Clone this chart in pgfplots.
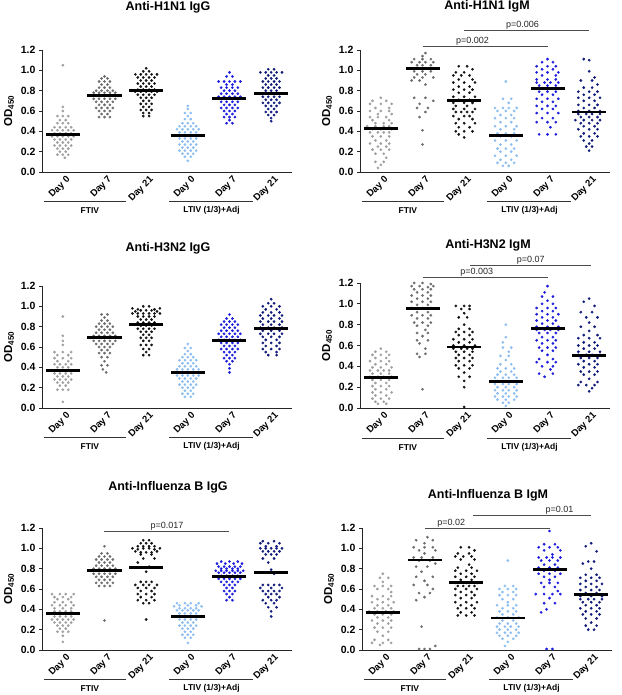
\documentclass[border=0pt]{standalone}
\usepackage{fontspec}
\setmainfont{Liberation Sans}
\usepackage{pgfplots}
\pgfplotsset{compat=1.18}

\definecolor{cA}{HTML}{A0A0A0}
\definecolor{cB}{HTML}{6E6E6E}
\definecolor{cC}{HTML}{141414}
\definecolor{cD}{HTML}{8DBEF0}
\definecolor{cE}{HTML}{1E1EDC}
\definecolor{cF}{HTML}{101C7A}

\pgfplotsset{
  panel/.style={
    scale only axis, width=250pt, height=122pt,
    xmin=0.5, xmax=6.5, ymin=0, ymax=1.2,
    axis x line*=bottom, axis y line*=left,
    axis line style={-, line width=0.8pt, black!85},
    xtick={1,2,3,4,5,6},
    xticklabels={Day 0,Day 7,Day 21,Day 0,Day 7,Day 21},
    x tick label style={rotate=45, anchor=north east, inner sep=0pt, xshift=2pt, yshift=-2pt,
      font=\bfseries\fontsize{9.5}{10}\selectfont},
    major x tick style={draw=none},
    ytick={0,0.2,0.4,0.6,0.8,1.0,1.2},
    y tick label style={font=\bfseries\fontsize{10.5}{11}\selectfont,
      /pgf/number format/.cd, fixed, fixed zerofill, precision=1, assume math mode=true},
    tick align=outside, major tick length=3pt,
    y tick style={black!85, line width=0.8pt},
    ylabel={OD\textsubscript{450}},
    ylabel style={font=\bfseries\fontsize{11.5}{12}\selectfont},
    clip=false,
  },
  g/.style 2 args={only marks, mark=*, mark size=1.15pt, color=#1, x filter/.expression={x+#2}},
  med/.style={only marks, mark=-, mark size=17pt, mark options={line width=2.8pt, black}},
}

% group lines under the tick labels
\newcommand{\groups}{%
  \draw[black!80, line width=0.7pt] (axis cs:0.55,-0.29) -- (axis cs:2.52,-0.29);
  \draw[black!80, line width=0.7pt] (axis cs:3.55,-0.29) -- (axis cs:5.57,-0.29);
  \node[font=\bfseries\fontsize{8.5}{9}\selectfont] at (axis cs:1.65,-0.38) {FTIV};
  \node[font=\bfseries\fontsize{8.5}{9}\selectfont] at (axis cs:4.57,-0.38) {LTIV (1/3)+Adj};
}
% p-value bracket: x1, x2, y, label x, text
\newcommand{\pbar}[5]{%
  \draw[black!70, line width=0.7pt] (axis cs:#1,#3) -- (axis cs:#2,#3);
  \node[font=\fontsize{9}{10}\selectfont, black!85, anchor=south, inner sep=0.8pt] at (axis cs:#4,#3) {#5};
}
\tikzset{ttl/.style={font=\bfseries\fontsize{12.5}{14}\selectfont}}

\begin{document}
\begin{tikzpicture}
\useasboundingbox (0,0) rectangle (621pt,695pt);

% ---------- Anti-H1N1 IgG ----------
\begin{axis}[panel, at={(42pt,523pt)}, anchor=south west]
\addplot[g={cA}{1}] coordinates {(0,1.05)(0,.64)(0,.6)(-.13,.55)(0,.55)(.13,.55)(-.07,.51)(.07,.51)(-.13,.48)(0,.48)(.13,.48)(-.2,.44)(-.07,.44)(.07,.44)(.2,.44)(-.26,.41)(-.13,.41)(0,.41)(.13,.41)(.26,.41)(-.2,.38)(-.07,.38)(.07,.38)(.2,.38)(-.26,.35)(-.13,.35)(0,.35)(.13,.35)(.26,.35)(-.2,.32)(-.07,.32)(.07,.32)(.2,.32)(-.13,.29)(0,.29)(.13,.29)(-.2,.26)(-.07,.26)(.07,.26)(.2,.26)(-.13,.23)(0,.23)(.13,.23)(-.07,.2)(.07,.2)(-.13,.17)(0,.17)(.13,.17)(.05,.14)};
\addplot[g={cB}{2}] coordinates {(0,.94)(-.07,.92)(.07,.92)(-.13,.89)(0,.89)(.13,.89)(-.07,.86)(.07,.86)(-.13,.83)(0,.83)(.13,.83)(-.2,.8)(-.07,.8)(.07,.8)(.2,.8)(-.26,.78)(-.13,.78)(0,.78)(.13,.78)(.26,.78)(-.33,.75)(-.2,.75)(-.07,.75)(.07,.75)(.2,.75)(.33,.75)(-.26,.72)(-.13,.72)(0,.72)(.13,.72)(.26,.72)(-.2,.69)(-.07,.69)(.07,.69)(.2,.69)(-.13,.66)(0,.66)(.13,.66)(-.2,.63)(-.07,.63)(.07,.63)(.2,.63)(-.13,.6)(0,.6)(.13,.6)(-.07,.57)(.07,.57)(-.13,.54)(0,.54)(.13,.54)};
\addplot[g={cC}{3}] coordinates {(0,1.02)(-.07,.99)(.07,.99)(-.26,.96)(-.13,.96)(0,.96)(.13,.96)(.26,.96)(-.2,.93)(-.07,.93)(.07,.93)(.2,.93)(-.13,.9)(0,.9)(.13,.9)(-.2,.87)(-.07,.87)(.07,.87)(.2,.87)(-.13,.84)(0,.84)(.13,.84)(-.2,.81)(-.07,.81)(.07,.81)(.2,.81)(-.26,.79)(-.13,.79)(0,.79)(.13,.79)(.26,.79)(-.2,.76)(-.07,.76)(.07,.76)(.2,.76)(-.13,.73)(0,.73)(.13,.73)(-.07,.7)(.07,.7)(-.13,.67)(0,.67)(.13,.67)(-.07,.64)(.07,.64)(-.13,.61)(0,.61)(.13,.61)(-.07,.58)(.07,.58)(-.07,.55)(.07,.55)};
\addplot[g={cD}{4}] coordinates {(0,.65)(0,.62)(-.07,.58)(.07,.58)(0,.55)(-.07,.52)(.07,.52)(-.13,.48)(0,.48)(.13,.48)(-.2,.45)(-.07,.45)(.07,.45)(.2,.45)(-.26,.42)(-.13,.42)(0,.42)(.13,.42)(.26,.42)(-.2,.39)(-.07,.39)(.07,.39)(.2,.39)(-.26,.36)(-.13,.36)(0,.36)(.13,.36)(.26,.36)(-.2,.33)(-.07,.33)(.07,.33)(.2,.33)(-.13,.3)(0,.3)(.13,.3)(-.2,.27)(-.07,.27)(.07,.27)(.2,.27)(-.13,.24)(0,.24)(.13,.24)(-.2,.21)(-.07,.21)(.07,.21)(.2,.21)(-.13,.18)(0,.18)(.13,.18)(-.07,.15)(.07,.15)(0,.11)};
\addplot[g={cE}{5}] coordinates {(0,.98)(-.07,.94)(.07,.94)(-.26,.89)(-.13,.89)(0,.89)(.13,.89)(.26,.89)(-.07,.86)(.07,.86)(-.2,.83)(-.07,.83)(.07,.83)(.2,.83)(-.13,.8)(0,.8)(.13,.8)(-.2,.77)(-.07,.77)(.07,.77)(.2,.77)(-.26,.74)(-.13,.74)(0,.74)(.13,.74)(.26,.74)(-.33,.72)(-.2,.72)(-.07,.72)(.07,.72)(.2,.72)(.33,.72)(-.2,.69)(-.07,.69)(.07,.69)(.2,.69)(-.13,.66)(0,.66)(.13,.66)(-.2,.63)(-.07,.63)(.07,.63)(.2,.63)(-.13,.6)(0,.6)(.13,.6)(-.07,.57)(.07,.57)(-.13,.54)(0,.54)(.13,.54)(0,.51)(-.07,.48)(.07,.48)};
\addplot[g={cF}{6}] coordinates {(-.07,1.01)(.07,1.01)(-.26,.98)(-.13,.98)(0,.98)(.13,.98)(.26,.98)(-.07,.95)(.07,.95)(-.13,.92)(0,.92)(.13,.92)(-.2,.89)(-.07,.89)(.07,.89)(.2,.89)(-.13,.86)(0,.86)(.13,.86)(-.2,.83)(-.07,.83)(.07,.83)(.2,.83)(-.13,.8)(0,.8)(.13,.8)(-.26,.77)(-.13,.77)(0,.77)(.13,.77)(.26,.77)(-.2,.74)(-.07,.74)(.07,.74)(.2,.74)(-.13,.71)(0,.71)(.13,.71)(-.2,.68)(-.07,.68)(.07,.68)(.2,.68)(-.13,.65)(0,.65)(.13,.65)(-.07,.62)(.07,.62)(-.13,.59)(0,.59)(.13,.59)(-.07,.56)(.07,.56)(0,.53)(0,.5)};
\addplot[med] coordinates {(1,.365)(2,.755)(3,.80)(4,.355)(5,.725)(6,.775)};
\groups
\end{axis}

% ---------- Anti-H1N1 IgM ----------
\begin{axis}[panel, at={(360pt,523pt)}, anchor=south west]
\addplot[g={cA}{1}] coordinates {(0,.73)(-.2,.7)(.13,.7)(-.26,.67)(0,.67)(.26,.67)(-.13,.63)(.2,.63)(-.26,.6)(0,.6)(.2,.6)(-.07,.57)(.26,.57)(-.26,.54)(-.07,.54)(.13,.54)(-.2,.51)(.2,.51)(-.13,.48)(.07,.48)(.26,.48)(-.33,.45)(-.13,.45)(.07,.45)(.2,.45)(-.2,.42)(0,.42)(.26,.42)(-.26,.39)(-.07,.39)(.07,.39)(.2,.39)(-.2,.35)(0,.35)(.2,.35)(-.13,.31)(.13,.31)(-.26,.28)(0,.28)(.2,.28)(-.07,.25)(.13,.25)(-.2,.22)(0,.22)(.2,.22)(-.13,.18)(.07,.18)(.13,.14)(-.13,.1)(.07,.1)(0,.07)(-.07,.04)};
\addplot[g={cB}{2}] coordinates {(.07,1.17)(0,1.14)(-.2,1.11)(0,1.11)(.2,1.11)(-.26,1.08)(-.07,1.08)(.07,1.08)(.26,1.08)(-.13,1.05)(0,1.05)(.2,1.05)(-.26,1.02)(-.13,1.02)(.13,1.02)(.26,1.02)(-.2,.99)(0,.99)(.2,.99)(-.13,.96)(.07,.96)(-.2,.93)(0,.93)(.26,.93)(-.26,.9)(-.07,.9)(.07,.86)(-.2,.73)(.07,.73)(.26,.7)(-.07,.67)(-.13,.63)(.13,.63)(.07,.59)(-.07,.54)(0,.41)(0,.27)};
\addplot[g={cC}{3}] coordinates {(-.13,1.04)(.07,1.04)(.2,1.01)(-.2,.98)(0,.98)(-.26,.95)(-.07,.95)(.13,.95)(-.13,.91)(.2,.91)(-.26,.88)(0,.88)(.26,.88)(-.13,.84)(.13,.84)(-.26,.81)(0,.81)(.2,.81)(-.13,.78)(.13,.78)(-.26,.74)(0,.74)(.26,.74)(-.13,.71)(.13,.71)(-.26,.68)(0,.68)(.2,.68)(-.2,.65)(.07,.65)(-.26,.62)(0,.62)(.26,.62)(-.2,.59)(-.07,.59)(.07,.59)(.2,.59)(-.26,.55)(0,.55)(.13,.55)(-.13,.52)(.2,.52)(-.2,.48)(0,.48)(.26,.48)(-.13,.44)(.13,.44)(-.2,.4)(0,.4)(.2,.4)(-.13,.37)(0,.34)};
\addplot[g={cD}{4}] coordinates {(0,.89)(-.07,.72)(.13,.72)(.07,.68)(-.26,.63)(-.07,.63)(.07,.63)(.26,.63)(-.2,.6)(0,.6)(.2,.6)(-.13,.56)(.13,.56)(-.26,.53)(0,.53)(.2,.53)(-.13,.49)(.13,.49)(-.26,.45)(0,.45)(.26,.45)(-.13,.42)(.2,.42)(-.2,.38)(0,.38)(.2,.38)(-.13,.35)(.13,.35)(-.26,.31)(0,.31)(.26,.31)(-.13,.27)(.13,.27)(-.2,.23)(0,.23)(.2,.23)(-.13,.2)(.13,.2)(-.26,.16)(0,.16)(.26,.16)(-.13,.12)(.13,.12)(-.2,.09)(0,.09)(.2,.09)(-.07,.06)(.07,.06)};
\addplot[g={cE}{5}] coordinates {(0,1.11)(-.13,1.08)(.13,1.08)(-.26,1.04)(0,1.04)(.2,1.04)(-.13,1.01)(.13,1.01)(-.26,.98)(0,.98)(.26,.98)(-.13,.95)(.2,.95)(-.26,.91)(0,.91)(.2,.91)(-.26,.88)(-.07,.88)(.07,.88)(.26,.88)(-.2,.85)(0,.85)(.2,.85)(-.26,.82)(-.07,.82)(.07,.82)(.26,.82)(-.2,.79)(0,.79)(.2,.79)(-.13,.76)(.13,.76)(-.26,.72)(0,.72)(.26,.72)(-.13,.69)(.13,.69)(-.26,.65)(0,.65)(.2,.65)(-.13,.62)(.13,.62)(-.26,.58)(0,.58)(.26,.58)(-.13,.53)(.13,.53)(-.26,.49)(0,.49)(.2,.49)(.07,.44)(-.2,.37)(0,.37)(.2,.37)};
\addplot[g={cF}{6}] coordinates {(-.13,1.11)(0,1.1)(0,.99)(.13,.93)(-.2,.9)(.07,.9)(.2,.86)(-.13,.83)(.07,.83)(-.26,.79)(0,.79)(.2,.79)(-.13,.76)(.13,.76)(-.26,.73)(0,.73)(.26,.73)(-.13,.7)(.13,.7)(-.26,.66)(0,.66)(.2,.66)(-.13,.63)(.13,.63)(-.26,.6)(0,.6)(.26,.6)(-.26,.57)(-.07,.57)(.07,.57)(.26,.57)(-.2,.54)(0,.54)(.2,.54)(-.33,.51)(-.13,.51)(.07,.51)(.26,.51)(-.2,.48)(0,.48)(.2,.48)(-.13,.45)(.13,.45)(-.26,.42)(0,.42)(.2,.42)(-.13,.38)(.13,.38)(-.2,.35)(0,.35)(.2,.35)(-.13,.31)(.07,.31)(0,.28)(-.07,.25)(.07,.25)(0,.21)};
\addplot[med] coordinates {(1,.425)(2,1.015)(3,.705)(4,.36)(5,.825)(6,.59)};
\groups
\pbar{2}{5}{1.24}{3.2}{p=0.002}
\pbar{3}{6}{1.39}{4.4}{p=0.006}
\end{axis}

% ---------- Anti-H3N2 IgG ----------
\begin{axis}[panel, at={(42pt,287pt)}, anchor=south west]
\addplot[g={cA}{1}] coordinates {(0,.9)(0,.71)(0,.66)(0,.62)(-.2,.55)(0,.55)(.2,.55)(-.13,.52)(.13,.52)(-.2,.49)(0,.49)(.2,.49)(-.13,.46)(.13,.46)(-.2,.43)(-.07,.43)(.07,.43)(.2,.43)(-.13,.4)(0,.4)(.13,.4)(-.26,.37)(-.13,.37)(0,.37)(.13,.37)(.26,.37)(-.2,.34)(-.07,.34)(.07,.34)(.2,.34)(-.13,.31)(0,.31)(.13,.31)(-.2,.28)(-.07,.28)(.07,.28)(.2,.28)(-.13,.25)(0,.25)(.13,.25)(-.07,.22)(.07,.22)(-.13,.18)(0,.18)(.13,.18)(0,.06)};
\addplot[g={cB}{2}] coordinates {(-.07,.92)(.07,.92)(0,.89)(-.07,.86)(.07,.86)(-.13,.83)(0,.83)(.13,.83)(-.2,.8)(-.07,.8)(.07,.8)(.2,.8)(-.13,.77)(0,.77)(.13,.77)(-.2,.74)(-.07,.74)(.07,.74)(.2,.74)(-.26,.71)(-.13,.71)(0,.71)(.13,.71)(.26,.71)(-.33,.69)(-.2,.69)(-.07,.69)(.07,.69)(.2,.69)(.33,.69)(-.26,.66)(-.13,.66)(0,.66)(.13,.66)(.26,.66)(-.2,.63)(-.07,.63)(.07,.63)(.2,.63)(-.13,.6)(0,.6)(.13,.6)(-.07,.57)(.07,.57)(-.13,.54)(0,.54)(.13,.54)(-.07,.5)(.07,.5)(0,.46)(-.07,.42)(.07,.42)(-.04,.38)(.04,.35)};
\addplot[g={cC}{3}] coordinates {(-.07,1)(.07,1)(-.33,.98)(-.2,.97)(.2,.97)(.33,.98)(-.26,.95)(-.13,.96)(0,.96)(.13,.96)(.26,.95)(-.33,.93)(-.2,.93)(-.07,.93)(.07,.93)(.2,.93)(.33,.93)(-.2,.9)(-.07,.9)(.07,.9)(.2,.9)(-.13,.87)(0,.87)(.13,.87)(-.2,.84)(-.07,.84)(.07,.84)(.2,.84)(-.13,.81)(0,.81)(.13,.81)(-.2,.78)(-.07,.78)(.07,.78)(.2,.78)(-.13,.75)(0,.75)(.13,.75)(-.07,.72)(.07,.72)(-.13,.69)(0,.69)(.13,.69)(-.07,.66)(.07,.66)(-.13,.62)(0,.62)(.13,.62)(-.07,.58)(.07,.58)(0,.55)(-.07,.52)(.07,.52)};
\addplot[g={cD}{4}] coordinates {(0,.63)(-.07,.59)(.07,.59)(0,.56)(-.07,.53)(.07,.53)(-.13,.5)(0,.5)(.13,.5)(-.2,.47)(-.07,.47)(.07,.47)(.2,.47)(-.13,.44)(0,.44)(.13,.44)(-.2,.41)(-.07,.41)(.07,.41)(.2,.41)(-.26,.38)(-.13,.38)(0,.38)(.13,.38)(.26,.38)(-.2,.35)(-.07,.35)(.07,.35)(.2,.35)(-.26,.32)(-.13,.32)(0,.32)(.13,.32)(.26,.32)(-.2,.29)(-.07,.29)(.07,.29)(.2,.29)(-.13,.26)(0,.26)(.13,.26)(-.2,.23)(-.07,.23)(.07,.23)(.2,.23)(-.13,.2)(0,.2)(.13,.2)(-.07,.17)(.07,.17)(-.13,.14)(0,.14)(.13,.14)(-.07,.11)(.07,.11)};
\addplot[g={cE}{5}] coordinates {(0,.92)(-.07,.88)(.07,.88)(-.13,.85)(0,.85)(.13,.85)(-.2,.82)(-.07,.82)(.07,.82)(.2,.82)(-.13,.79)(0,.79)(.13,.79)(-.2,.76)(-.07,.76)(.07,.76)(.2,.76)(-.26,.73)(-.13,.73)(0,.73)(.13,.73)(.26,.73)(-.2,.7)(-.07,.7)(.07,.7)(.2,.7)(-.26,.67)(-.13,.67)(0,.67)(.13,.67)(.26,.67)(-.2,.64)(-.07,.64)(.07,.64)(.2,.64)(-.13,.61)(0,.61)(.13,.61)(-.2,.58)(-.07,.58)(.07,.58)(.2,.58)(-.13,.55)(0,.55)(.13,.55)(-.07,.52)(.07,.52)(-.13,.49)(0,.49)(.13,.49)(-.07,.46)(.07,.46)(0,.43)(0,.39)(0,.35)};
\addplot[g={cF}{6}] coordinates {(0,1.07)(-.07,1.03)(.07,1.03)(-.2,1)(0,1)(.2,1)(-.13,.97)(.13,.97)(-.2,.94)(0,.94)(.2,.94)(-.26,.91)(-.07,.91)(.07,.91)(.26,.91)(-.2,.88)(0,.88)(.2,.88)(-.26,.85)(-.07,.85)(.07,.85)(.26,.85)(-.2,.82)(0,.82)(.2,.82)(-.26,.79)(-.07,.79)(.07,.79)(.26,.79)(-.2,.76)(0,.76)(.2,.76)(-.26,.73)(-.07,.73)(.07,.73)(.26,.73)(-.2,.7)(0,.7)(.2,.7)(-.13,.67)(.13,.67)(-.2,.64)(0,.64)(.2,.64)(-.13,.61)(.13,.61)(-.2,.58)(0,.58)(.2,.58)(-.13,.55)(.13,.55)(-.07,.52)(.13,.52)};
\addplot[med] coordinates {(1,.37)(2,.69)(3,.82)(4,.35)(5,.66)(6,.78)};
\groups
\end{axis}

% ---------- Anti-H3N2 IgM ----------
\begin{axis}[panel, height=125pt, at={(360pt,287pt)}, anchor=south west]
\addplot[g={cA}{1}] coordinates {(0,.57)(-.13,.54)(.13,.54)(-.2,.51)(0,.51)(.2,.51)(-.13,.48)(.13,.48)(-.26,.45)(0,.45)(.2,.45)(-.13,.42)(.13,.42)(-.2,.39)(0,.39)(.26,.39)(-.26,.36)(-.07,.36)(.07,.36)(.2,.36)(-.2,.33)(0,.33)(.2,.33)(-.26,.3)(-.07,.3)(.07,.3)(.26,.3)(-.2,.27)(0,.27)(.2,.27)(-.13,.24)(.13,.24)(-.2,.21)(0,.21)(.2,.21)(-.13,.18)(.13,.18)(-.2,.15)(0,.15)(.26,.15)(-.13,.12)(.13,.12)(-.2,.09)(0,.09)(.2,.09)(-.13,.06)(.07,.06)(-.07,.04)(.13,.04)};
\addplot[g={cB}{2}] coordinates {(-.2,1.2)(0,1.2)(.2,1.19)(-.26,1.17)(-.07,1.17)(.13,1.16)(.26,1.17)(-.2,1.14)(0,1.14)(.2,1.14)(-.13,1.11)(.13,1.11)(-.26,1.08)(0,1.08)(.2,1.08)(-.13,1.05)(.13,1.05)(-.26,1.02)(0,1.02)(.2,1.02)(-.13,.99)(.13,.99)(-.26,.96)(0,.96)(.2,.96)(-.13,.92)(.13,.92)(-.26,.89)(0,.89)(.2,.89)(-.13,.86)(.13,.86)(-.2,.82)(0,.82)(.2,.82)(-.13,.79)(.13,.79)(.07,.75)(-.13,.72)(.13,.72)(0,.69)(-.13,.65)(.13,.65)(-.07,.62)(.07,.57)(-.13,.52)(.07,.52)(-.07,.49)(0,.18)};
\addplot[g={cC}{3}] coordinates {(-.2,.98)(0,.98)(.13,.98)(-.07,.95)(.13,.95)(0,.91)(-.13,.87)(.07,.87)(0,.8)(-.13,.76)(.13,.76)(-.2,.73)(0,.73)(.2,.73)(-.13,.7)(.13,.7)(-.26,.66)(0,.66)(.2,.66)(-.13,.63)(.13,.63)(-.26,.6)(0,.6)(.26,.6)(-.26,.57)(-.07,.57)(.07,.57)(.2,.57)(-.2,.54)(0,.54)(.2,.54)(-.13,.51)(.13,.51)(-.2,.48)(0,.48)(.2,.48)(-.13,.45)(.13,.45)(-.2,.41)(0,.41)(.2,.41)(-.13,.38)(.13,.38)(0,.34)(-.13,.3)(.13,.3)(0,.26)(0,.2)(0,.01)};
\addplot[g={cD}{4}] coordinates {(0,.8)(0,.68)(-.07,.63)(-.07,.58)(.13,.58)(.07,.54)(-.13,.5)(.07,.5)(0,.46)(-.13,.42)(.13,.42)(-.2,.38)(0,.38)(.2,.38)(-.13,.35)(.13,.35)(-.2,.32)(0,.32)(.2,.32)(-.26,.29)(-.07,.29)(.07,.29)(.26,.29)(-.2,.26)(0,.26)(.2,.26)(-.26,.23)(-.07,.23)(.07,.23)(.26,.23)(-.2,.2)(0,.2)(.2,.2)(-.26,.17)(-.07,.17)(.07,.17)(.26,.17)(-.2,.14)(0,.14)(.2,.14)(-.26,.11)(-.07,.11)(.07,.11)(.26,.11)(-.2,.08)(0,.08)(.2,.08)(-.07,.05)(.07,.05)(0,.02)};
\addplot[g={cE}{5}] coordinates {(0,1.17)(-.07,1.11)(-.13,1.07)(.13,1.07)(0,1.03)(-.13,1)(.13,1)(-.26,.96)(0,.96)(.2,.96)(-.13,.93)(.13,.93)(-.26,.9)(0,.9)(.26,.9)(-.13,.87)(.13,.87)(-.26,.84)(0,.84)(.2,.84)(-.13,.81)(.13,.81)(-.26,.78)(0,.78)(.26,.78)(-.26,.75)(-.07,.75)(.07,.75)(.26,.75)(-.2,.72)(0,.72)(.2,.72)(-.13,.68)(.13,.68)(-.26,.65)(0,.65)(.2,.65)(-.13,.62)(.13,.62)(-.2,.58)(0,.58)(.2,.58)(-.13,.55)(.13,.55)(0,.51)(-.2,.47)(.13,.47)(-.26,.44)(0,.44)(.2,.44)(-.13,.4)(.13,.4)(.07,.37)(-.2,.33)(.13,.33)(-.07,.3)};
\addplot[g={cF}{6}] coordinates {(0,1.05)(-.13,1.02)(.13,.98)(-.2,.92)(.07,.92)(-.07,.87)(.2,.87)(0,.82)(-.2,.78)(.13,.78)(0,.74)(-.13,.7)(.2,.7)(-.26,.67)(0,.67)(.26,.67)(-.13,.63)(.13,.63)(-.26,.6)(0,.6)(.2,.6)(-.13,.57)(.13,.57)(-.26,.54)(0,.54)(.26,.54)(-.26,.51)(-.07,.51)(.07,.51)(.26,.51)(-.2,.48)(0,.48)(.2,.48)(-.13,.45)(.13,.45)(-.26,.42)(0,.42)(.2,.42)(-.13,.39)(.13,.39)(-.2,.35)(0,.35)(.2,.35)(-.13,.32)(.13,.32)(0,.28)(-.2,.25)(.2,.25)(-.26,.22)(-.07,.22)(.13,.22)(.07,.19)(0,.16)};
\addplot[med] coordinates {(1,.295)(2,.955)(3,.585)(4,.255)(5,.765)(6,.505)};
\groups
\pbar{2}{5}{1.25}{3.3}{p=0.003}
\pbar{3.15}{6.05}{1.37}{4.6}{p=0.07}
\end{axis}

% ---------- Anti-Influenza B IgG ----------
\begin{axis}[panel, at={(42pt,45pt)}, anchor=south west]
\addplot[g={cA}{1}] coordinates {(-.26,.55)(-.07,.55)(.07,.55)(.26,.55)(-.2,.52)(0,.52)(.2,.52)(-.13,.5)(.13,.5)(-.2,.47)(0,.47)(.2,.47)(-.26,.44)(-.07,.44)(.07,.44)(.26,.44)(-.2,.41)(0,.41)(.2,.41)(-.2,.38)(-.07,.38)(.07,.38)(.2,.38)(-.26,.36)(-.13,.36)(0,.36)(.13,.36)(.26,.36)(-.2,.33)(-.07,.33)(.07,.33)(.2,.33)(-.26,.3)(-.13,.3)(0,.3)(.13,.3)(.26,.3)(-.2,.27)(-.07,.27)(.07,.27)(.2,.27)(-.13,.24)(0,.24)(.13,.24)(-.07,.21)(.07,.21)(-.13,.18)(0,.18)(.13,.18)(0,.14)(0,.08)};
\addplot[g={cB}{2}] coordinates {(0,1.02)(-.07,.95)(.07,.95)(-.13,.92)(0,.92)(.13,.92)(-.2,.89)(-.07,.89)(.07,.89)(.2,.89)(-.13,.86)(0,.86)(.13,.86)(-.2,.83)(-.07,.83)(.07,.83)(.2,.83)(-.26,.8)(-.13,.8)(0,.8)(.13,.8)(.26,.8)(-.33,.78)(-.2,.78)(-.07,.78)(.07,.78)(.2,.78)(.33,.78)(-.26,.75)(-.13,.75)(0,.75)(.13,.75)(.26,.75)(-.2,.72)(-.07,.72)(.07,.72)(.2,.72)(-.13,.69)(0,.69)(.13,.69)(-.2,.66)(-.07,.66)(.07,.66)(.2,.66)(-.13,.63)(0,.63)(.13,.63)(0,.29)};
\addplot[g={cC}{3}] coordinates {(-.07,1.08)(.07,1.08)(-.13,1.05)(0,1.05)(.13,1.05)(-.2,1.02)(-.07,1.02)(.07,1.02)(.2,1.02)(-.33,1)(-.2,.99)(-.07,1)(.07,1)(.2,.99)(.33,1)(-.26,.97)(-.13,.96)(0,.96)(.13,.96)(.26,.97)(-.13,.94)(.13,.94)(-.07,.9)(.2,.9)(-.2,.86)(.07,.82)(0,.77)(-.13,.67)(0,.67)(.13,.67)(-.26,.64)(-.07,.64)(.07,.64)(.26,.64)(-.2,.61)(0,.61)(.2,.61)(-.13,.58)(.13,.58)(-.2,.55)(0,.55)(.2,.55)(-.13,.52)(.13,.52)(-.2,.49)(0,.49)(.2,.49)(-.07,.46)(.07,.46)(0,.3)};
\addplot[g={cD}{4}] coordinates {(-.26,.46)(-.07,.46)(.07,.46)(.26,.46)(-.2,.44)(0,.44)(.2,.44)(-.33,.43)(.33,.43)(-.2,.41)(-.07,.41)(.07,.41)(.2,.41)(-.26,.39)(-.13,.39)(0,.39)(.13,.39)(.26,.39)(-.2,.36)(-.07,.36)(.07,.36)(.2,.36)(-.26,.33)(-.13,.33)(0,.33)(.13,.33)(.26,.33)(-.2,.3)(-.07,.3)(.07,.3)(.2,.3)(-.13,.27)(0,.27)(.13,.27)(-.2,.24)(-.07,.24)(.07,.24)(.2,.24)(-.13,.21)(0,.21)(.13,.21)(-.07,.18)(.07,.18)(-.13,.15)(0,.15)(.13,.15)(-.07,.12)(.07,.12)(0,.07)};
\addplot[g={cE}{5}] coordinates {(-.2,.87)(0,.87)(.2,.87)(-.3,.85)(-.1,.85)(.1,.85)(.3,.85)(-.26,.82)(-.13,.82)(0,.82)(.13,.82)(.26,.82)(-.2,.8)(-.07,.8)(.07,.8)(.2,.8)(-.33,.78)(-.2,.78)(-.07,.78)(.07,.78)(.2,.78)(.33,.78)(-.26,.76)(-.13,.76)(0,.76)(.13,.76)(.26,.76)(-.2,.73)(-.07,.73)(.07,.73)(.2,.73)(-.26,.7)(-.13,.7)(0,.7)(.13,.7)(.26,.7)(-.2,.67)(-.07,.67)(.07,.67)(.2,.67)(-.13,.64)(0,.64)(.13,.64)(-.07,.61)(.07,.61)(-.13,.58)(0,.58)(.13,.58)(-.07,.55)(.07,.55)(0,.52)(-.07,.49)(.07,.49)};
\addplot[g={cF}{6}] coordinates {(-.2,1.07)(.07,1.07)(-.26,1.05)(-.07,1.05)(.2,1.05)(-.13,1.02)(.13,1.02)(-.26,1)(-.13,1)(0,1)(.13,1)(.26,1)(-.2,.97)(-.07,.97)(.07,.97)(.2,.97)(-.13,.94)(0,.94)(.13,.94)(-.2,.9)(.07,.9)(-.07,.86)(0,.79)(.07,.75)(-.2,.64)(-.07,.64)(.07,.64)(.2,.64)(-.26,.61)(0,.61)(.26,.61)(-.2,.58)(-.07,.58)(.07,.58)(.2,.58)(-.13,.55)(0,.55)(.13,.55)(-.07,.52)(.2,.52)(-.2,.49)(0,.49)(.13,.49)(-.13,.46)(.07,.46)(-.07,.42)(.13,.42)(0,.38)(0,.33)};
\addplot[med] coordinates {(1,.36)(2,.78)(3,.81)(4,.33)(5,.725)(6,.76)};
\groups
\pbar{2}{5}{1.17}{3.5}{p=0.017}
\end{axis}

% ---------- Anti-Influenza B IgM ----------
\begin{axis}[panel, at={(362pt,45pt)}, anchor=south west]
\addplot[g={cA}{1}] coordinates {(0,.75)(-.07,.71)(.13,.71)(0,.67)(-.2,.63)(0,.63)(.2,.63)(-.13,.6)(.13,.6)(.2,.57)(-.26,.53)(0,.53)(.2,.53)(-.13,.5)(.13,.5)(-.26,.47)(0,.47)(.26,.47)(-.13,.44)(.13,.44)(-.2,.41)(0,.41)(.2,.41)(-.33,.38)(-.13,.38)(.07,.38)(.26,.38)(-.2,.35)(0,.35)(.2,.35)(-.13,.32)(.13,.32)(-.26,.29)(0,.29)(.2,.29)(-.13,.26)(.13,.26)(-.2,.22)(0,.22)(.2,.22)(-.13,.18)(.13,.18)(0,.14)(-.2,.1)(.13,.1)(-.26,.07)(0,.07)(.2,.07)(-.07,.05)};
\addplot[g={cB}{2}] coordinates {(.07,1.11)(-.2,1.08)(.2,1.08)(0,1.05)(-.26,1.01)(0,1.01)(.2,1.01)(-.13,.98)(.26,.98)(0,.95)(-.26,.91)(-.07,.91)(.2,.91)(-.13,.88)(.13,.88)(.26,.85)(-.2,.82)(.07,.82)(-.07,.77)(-.2,.72)(.2,.72)(0,.68)(-.26,.64)(.07,.64)(.2,.6)(-.13,.56)(.13,.56)(0,.52)(-.2,.49)(-.07,.23)(.26,.04)(-.13,.01)(0,.01)(.13,.01)};
\addplot[g={cC}{3}] coordinates {(-.13,1.01)(.07,1.01)(.2,.98)(-.2,.95)(.07,.95)(-.26,.92)(-.07,.92)(.13,.92)(-.13,.89)(.2,.89)(.07,.84)(-.2,.81)(.13,.81)(-.26,.78)(0,.78)(.26,.78)(-.13,.75)(.13,.75)(-.26,.72)(0,.72)(.2,.72)(-.13,.69)(.13,.69)(-.26,.66)(0,.66)(.26,.66)(-.2,.63)(-.07,.63)(.07,.63)(.2,.63)(-.26,.6)(0,.6)(.26,.6)(-.13,.57)(.13,.57)(-.26,.54)(0,.54)(.2,.54)(-.13,.51)(.13,.51)(-.26,.47)(0,.47)(.26,.47)(-.13,.44)(.13,.44)(-.2,.41)(0,.41)(.2,.41)(-.13,.37)(.13,.37)(-.2,.34)(0,.34)(.2,.34)};
\addplot[g={cD}{4}] coordinates {(0,.88)(-.07,.63)(.13,.63)(-.2,.6)(0,.6)(.2,.6)(-.13,.57)(.13,.57)(-.2,.54)(0,.54)(.2,.54)(-.13,.5)(.13,.5)(0,.47)(-.26,.44)(0,.44)(.2,.44)(-.13,.41)(.13,.41)(-.2,.38)(0,.38)(.2,.38)(-.13,.35)(.13,.35)(-.26,.32)(0,.32)(.26,.32)(-.13,.29)(.13,.29)(-.2,.26)(0,.26)(.2,.26)(-.26,.23)(-.07,.23)(.07,.23)(.26,.23)(-.2,.2)(0,.2)(.2,.2)(-.26,.17)(-.07,.17)(.07,.17)(.26,.17)(-.2,.14)(0,.14)(.2,.14)(-.13,.11)(.13,.11)(0,.08)(-.07,.04)};
\addplot[g={cE}{5}] coordinates {(0,1.17)(-.13,1.04)(.13,1.04)(-.26,1.01)(0,1.01)(.2,1.01)(-.13,.98)(.26,.98)(.07,.94)(-.26,.91)(-.07,.91)(.07,.91)(.26,.91)(-.2,.88)(0,.88)(.2,.88)(-.13,.84)(.13,.84)(-.26,.81)(0,.81)(.2,.81)(-.13,.78)(.13,.78)(-.26,.75)(0,.75)(.26,.75)(-.13,.72)(.13,.72)(0,.69)(-.2,.66)(0,.66)(.2,.66)(-.13,.62)(.13,.62)(.2,.58)(-.33,.55)(-.13,.55)(.07,.55)(.26,.55)(0,.51)(-.13,.46)(.13,.46)(-.07,.4)(-.2,.37)(-.07,.01)(.07,.01)};
\addplot[g={cF}{6}] coordinates {(0,1.05)(-.13,1.02)(.13,.97)(-.07,.87)(.07,.87)(-.2,.85)(0,.8)(-.13,.74)(.13,.74)(-.26,.71)(0,.71)(.2,.71)(-.13,.68)(.13,.68)(-.26,.65)(0,.65)(.26,.65)(-.13,.62)(.13,.62)(-.26,.59)(0,.59)(.2,.59)(-.13,.56)(.13,.56)(-.26,.53)(0,.53)(.26,.53)(-.26,.5)(-.07,.5)(.07,.5)(.26,.5)(-.2,.47)(0,.47)(.2,.47)(-.13,.44)(.13,.44)(-.26,.41)(0,.41)(.2,.41)(-.13,.38)(.13,.38)(-.2,.35)(0,.35)(.2,.35)(-.13,.31)(.13,.31)(0,.27)(-.13,.24)(.13,.24)(-.07,.2)(.07,.2)};
\addplot[med] coordinates {(1,.37)(2,.885)(3,.66)(4,.315)(5,.79)(6,.545)};
\groups
\pbar{2}{5}{1.20}{2.64}{p=0.02}
\pbar{3.16}{6}{1.32}{5.24}{p=0.01}
\end{axis}

% panel titles
\node[ttl] at (168pt,688pt) {Anti-H1N1 IgG};
\node[ttl] at (487pt,689pt) {Anti-H1N1 IgM};
\node[ttl] at (168pt,447pt) {Anti-H3N2 IgG};
\node[ttl] at (488pt,450pt) {Anti-H3N2 IgM};
\node[ttl] at (168pt,208pt) {Anti-Influenza B IgG};
\node[ttl] at (488pt,200pt) {Anti-Influenza B IgM};
\end{tikzpicture}
\end{document}
